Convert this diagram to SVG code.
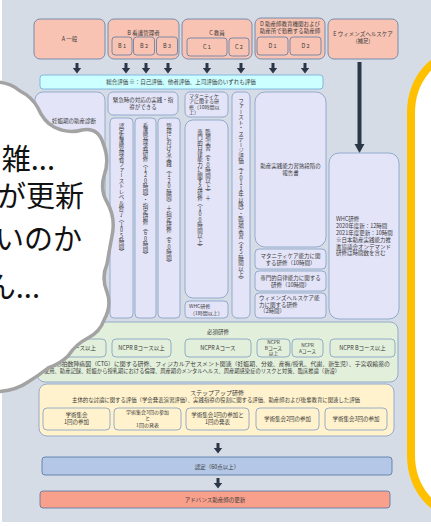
<svg xmlns="http://www.w3.org/2000/svg" width="431" height="526" viewBox="0 0 431 526">
<style>
.t{font-family:"Noto Sans CJK JP","Noto Sans",sans-serif;font-size:5.5px;fill:#3a3a3a;text-anchor:middle}
.l{text-anchor:start}
.v{writing-mode:vertical-rl;text-orientation:upright;text-anchor:start}
.sal{fill:#f8c3b3;stroke:#5a7aa3;stroke-width:0.8}
.lav{fill:#e4e4f8;stroke:#7f9cc4;stroke-width:0.8}
.cy{fill:#ccffff;stroke:#6fa8dc;stroke-width:0.8}
.gr{fill:#e2efda;stroke:#7f9cc4;stroke-width:0.8}
.cr{fill:#fff2cc;stroke:#7f9cc4;stroke-width:0.8}
.bl{fill:#b4c7e7;stroke:#4f73a3;stroke-width:0.8}
.rd{fill:#f8a08c;stroke:#4f73a3;stroke-width:0.8}
.big{font-family:"Noto Sans CJK JP","Noto Sans",sans-serif;font-size:29px;fill:#111;text-anchor:end}
</style>
<defs>
<path id="arr" d="M-1.5 0H1.5V5H4.2L0 10.5L-4.2 5H-1.5Z" fill="#2b3648"/>
</defs>
<rect x="0" y="0" width="431" height="526" fill="#ffffff"/>
<rect x="2" y="0" width="429" height="522" fill="#d6dce5"/>

<g id="connectors">
<use href="#arr" x="77" y="63"/>
<use href="#arr" x="126" y="63"/>
<use href="#arr" x="146" y="63"/>
<use href="#arr" x="168" y="63"/>
<use href="#arr" x="207" y="63"/>
<use href="#arr" x="241" y="63"/>
<use href="#arr" x="273" y="63"/>
<use href="#arr" x="305" y="63"/>
<line x1="359.5" y1="62" x2="359.5" y2="145" stroke="#2b3648" stroke-width="4"/>
<path d="M354.5 144H364.5L359.5 153Z" fill="#2b3648"/>
<use href="#arr" x="218" y="443"/>
<use href="#arr" x="218" y="478"/>
</g>

<g id="nodeA">
<rect class="sal" x="34" y="19" width="71" height="40" rx="6"/>
<text class="t" x="69.5" y="41">A 一般</text>
</g>
<g id="nodeB">
<rect class="sal" x="108" y="19" width="71" height="40" rx="6"/>
<text class="t" x="143.5" y="34.5">B 看護管理者</text>
<rect class="sal" x="112" y="37" width="20" height="18" rx="3"/>
<rect class="sal" x="133.5" y="37" width="21" height="18" rx="3"/>
<rect class="sal" x="156.5" y="37" width="21" height="18" rx="3"/>
<text class="t" x="122" y="48">B 1</text>
<text class="t" x="144" y="48">B 2</text>
<text class="t" x="167" y="48">B 3</text>
</g>
<g id="nodeC">
<rect class="sal" x="182" y="19" width="70" height="40" rx="6"/>
<text class="t" x="217" y="34.5">C 教員</text>
<rect class="sal" x="187" y="38" width="40" height="18" rx="3"/>
<rect class="sal" x="229" y="38" width="20" height="18" rx="3"/>
<text class="t" x="207" y="49">C 1</text>
<text class="t" x="239" y="49">C 2</text>
</g>
<g id="nodeD">
<rect class="sal" x="255" y="18" width="70" height="41" rx="6"/>
<text class="t" x="290" y="26">D 助産師教育機関および</text>
<text class="t" x="290" y="32.5">助産所で勤務する助産師</text>
<rect class="sal" x="257" y="37" width="31" height="18" rx="3"/>
<rect class="sal" x="290" y="37" width="31" height="18" rx="3"/>
<text class="t" x="272.5" y="48">D 1</text>
<text class="t" x="305.5" y="48">D 2</text>
</g>
<g id="nodeE">
<rect class="sal" x="328" y="19" width="70" height="40" rx="6"/>
<text class="t" x="363" y="36">E ウィメンズヘルスケア</text>
<text class="t" x="363" y="43">(補足)</text>
</g>

<g id="sogo">
<rect class="cy" x="40" y="75" width="283" height="14" rx="3"/>
<text class="t" x="181" y="84">総合評価 ※：自己評価、他者評価、上司評価のいずれも評価</text>
</g>

<g id="colA">
<rect class="lav" x="35" y="92" width="70" height="226" rx="8"/>
<text class="t l" x="52" y="123">妊娠期の助産診断</text>
</g>
<g id="colB">
<rect class="lav" x="108" y="92" width="70" height="23" rx="5"/>
<text class="t" x="143" y="102">緊急時の対応の実践・指</text>
<text class="t" x="143" y="109">導ができる</text>
</g>
<g id="colB1">
<rect class="lav" x="110" y="118" width="23" height="200" rx="4"/>
<text class="t v" x="121.5" y="123">認定看護管理者ファーストレベル修了（105時間）</text>
</g>
<g id="colB2">
<rect class="lav" x="135" y="118" width="21" height="200" rx="4"/>
<text class="t v" x="145.5" y="123">看護管理者研修（120時間）・指定研修（60時間）</text>
</g>
<g id="colB3">
<rect class="lav" x="158" y="118" width="22" height="200" rx="4"/>
<text class="t v" x="169" y="123">管理における実践（120時間）＋指定研修（60時間）</text>
</g>
<g id="colC1top">
<rect class="lav" x="185" y="92" width="43" height="25" rx="5"/>
<text class="t l" x="189" y="97.5" style="font-size:5px">マタニティケ</text>
<text class="t l" x="189" y="103" style="font-size:5px">アに関する研</text>
<text class="t l" x="189" y="108.5" style="font-size:5px">修（10時間以</text>
<text class="t l" x="189" y="114" style="font-size:5px">上）</text>
</g>
<g id="colC1">
<rect class="lav" x="185" y="120" width="43" height="178" rx="8"/>
<text class="t v" x="208" y="129">臨地実習（60時間以上）＋</text>
<text class="t v" x="200" y="129">専門的自律能力に関する研修（100時間以上）</text>
</g>
<g id="colC1s">
<rect class="lav" x="185" y="301" width="43" height="17" rx="4"/>
<text class="t l" x="189" y="307.5" style="font-size:5px">WHC研修</text>
<text class="t l" x="190" y="314.5" style="font-size:5px">（1時間以上）</text>
</g>
<g id="colC2">
<rect class="lav" x="232" y="92" width="18" height="226" rx="5"/>
<text class="t v" x="241" y="98">ファースト・ステージ評価（2011年以降）・臨地実習（45時間以上）</text>
</g>
<g id="colD">
<rect class="lav" x="255" y="92" width="71" height="155" rx="10"/>
<text class="t" x="290.5" y="168">助産実践能力習熟段階の</text>
<text class="t" x="290.5" y="174.5">報告書</text>
</g>
<g id="colD1">
<rect class="lav" x="255" y="249" width="71" height="20" rx="4"/>
<text class="t" x="290.5" y="257.5">マタニティケア能力に関</text>
<text class="t" x="290.5" y="264.5">する研修（10時間）</text>
</g>
<g id="colD2">
<rect class="lav" x="255" y="271" width="71" height="20" rx="4"/>
<text class="t" x="290.5" y="279.5">専門的自律能力に関する</text>
<text class="t" x="290.5" y="286.5">研修（10時間）</text>
</g>
<g id="colD3">
<rect class="lav" x="255" y="293" width="71" height="25" rx="4"/>
<text class="t l" x="259" y="300">ウィメンズヘルスケア能</text>
<text class="t l" x="259" y="306.5">力に関する研修</text>
<text class="t l" x="260" y="313">（2時間）</text>
</g>
<g id="colE">
<rect class="lav" x="329" y="153" width="70" height="166" rx="10"/>
<text class="t l" x="336" y="221">WHC研修</text>
<text class="t l" x="336" y="228">2020年度新：12時間</text>
<text class="t l" x="336" y="235">2021年度更新：10時間</text>
<text class="t l" x="336" y="242">※日本助産実践能力推</text>
<text class="t l" x="336" y="248.5">進協議会オンデマンド</text>
<text class="t l" x="336" y="255">研修は時間数を含む</text>
</g>

<g id="hissu">
<rect class="gr" x="37" y="322" width="361" height="60" rx="8"/>
<text class="t" x="218" y="334">必須研修</text>
<rect class="gr" x="40" y="339" width="66" height="18" rx="4"/>
<text class="t" x="73" y="350">NCPR Sコース以上</text>
<rect class="gr" x="112" y="339" width="59" height="18" rx="4"/>
<text class="t" x="141.5" y="350">NCPR Bコース以上</text>
<rect class="gr" x="185" y="339" width="66" height="18" rx="4"/>
<text class="t" x="218" y="350">NCPR Aコース</text>
<rect class="gr" x="257" y="339" width="33" height="18" rx="4"/>
<text class="t" x="273.5" y="344" style="font-size:4.8px">NCPR</text>
<text class="t" x="273.5" y="349.5" style="font-size:4.8px">Bコース</text>
<text class="t" x="273.5" y="355" style="font-size:4.8px">以上</text>
<rect class="gr" x="292" y="339" width="31" height="18" rx="4"/>
<text class="t" x="307.5" y="346.5" style="font-size:4.8px">NCPR</text>
<text class="t" x="307.5" y="352.5" style="font-size:4.8px">Aコース</text>
<rect class="gr" x="330" y="339" width="65" height="18" rx="4"/>
<text class="t" x="362.5" y="350">NCPR Bコース以上</text>
<text class="t l" x="44" y="366" textLength="346" lengthAdjust="spacingAndGlyphs">胎児心拍数陣痛図（CTG）に関する研修、フィジカルアセスメント関連（妊娠期、分娩、産褥/授乳、代謝、新生児）、子宮収縮薬の</text>
<text class="t l" x="44" y="373" textLength="296" lengthAdjust="spacingAndGlyphs">使用、助産記録、妊娠から授乳期における倫理、周産期のメンタルヘルス、周産期感染症のリスクと対策、臨床推論（新設）</text>
</g>

<g id="stepup">
<rect class="cr" x="39" y="384" width="355" height="52" rx="8"/>
<text class="t" x="217" y="395" style="font-size:6px">ステップアップ研修</text>
<text class="t" x="216" y="402" textLength="288" lengthAdjust="spacingAndGlyphs">主体的な討論に関する評価（学会発表演習評価）、実践指導の役割に関する評価、助産師および後輩教育に関連した評価</text>
<rect class="cr" x="43" y="408" width="67" height="22" rx="4"/>
<text class="t" x="76.5" y="417">学術集会</text>
<text class="t" x="76.5" y="424">1回の参加</text>
<rect class="cr" x="114" y="408" width="67" height="22" rx="4"/>
<text class="t" x="147.5" y="414" style="font-size:5px">学術集会3回の参加</text>
<text class="t" x="147.5" y="420" style="font-size:5px">と</text>
<text class="t" x="147.5" y="426.5" style="font-size:5px">1回の発表</text>
<rect class="cr" x="186" y="408" width="63" height="22" rx="4"/>
<text class="t" x="217.5" y="417">学術集会1回の参加と</text>
<text class="t" x="217.5" y="424">1回の発表</text>
<rect class="cr" x="256" y="408" width="63" height="22" rx="4"/>
<text class="t" x="287.5" y="421">学術集会2回の参加</text>
<rect class="cr" x="325" y="408" width="62" height="22" rx="4"/>
<text class="t" x="356" y="421">学術集会3回の参加</text>
</g>

<g id="nintei">
<rect class="bl" x="42" y="457" width="350" height="18" rx="3"/>
<text class="t" x="217" y="468.5">認定（60点以上）</text>
</g>
<g id="koshin">
<rect class="rd" x="40" y="491" width="350" height="17" rx="3"/>
<text class="t" x="215" y="502">アドバンス助産師の更新</text>
</g>

<g id="yellowPanel">
<rect x="411" y="53" width="100" height="462" rx="60" fill="#ffffff" stroke="#ffc000" stroke-width="8"/>
</g>

<g id="cloud">
<path d="M-10 82 Q8 81 20 91 Q32 97 38 108 Q44 122 54 127 Q68 134 82 130 Q98 127 103 143 Q110 160 104 176 Q100 190 107 202 Q116 218 112 236 Q109 252 107 264 Q101 278 107 292 Q112 306 104 320 Q100 332 88 338 Q76 344 68 356 Q60 364 48 368 Q38 376 28 382 Q14 392 -10 392 Z" fill="#ffffff" stroke="#a3a3a3" stroke-width="3.5" stroke-linejoin="round"/>
<text class="big" x="55" y="170">雑...</text>
<text class="big" x="84" y="207">が更新</text>
<text class="big" x="82" y="250">いのか</text>
<text class="big" x="40" y="298">ん...</text>
</g>
</svg>
